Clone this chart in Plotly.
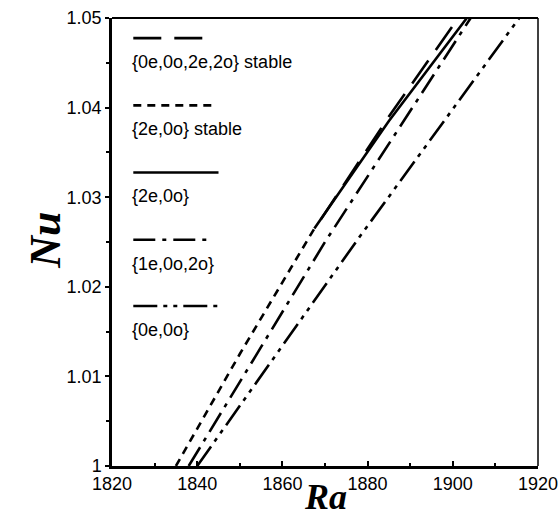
import plotly.graph_objects as go

# Data
ra_stable_4 = [1869.0, 1885.0, 1901.3]
nu_stable_4 = [1.0275, 1.0390, 1.0500]

ra_2e0o_stable = [1835.0, 1850.0, 1867.5]
nu_2e0o_stable = [1.0000, 1.0125, 1.0265]

ra_2e0o = [1867.5, 1885.0, 1903.3]
nu_2e0o = [1.0265, 1.0385, 1.0500]

ra_1e0o2o = [1838.0, 1870.0, 1904.2]
nu_1e0o2o = [1.0000, 1.0250, 1.0500]

ra_0e0o = [1840.0, 1878.0, 1915.6]
nu_0e0o = [1.0000, 1.0255, 1.0500]

legend_labels = ["{0e,0o,2e,2o} stable", "{2e,0o} stable", "{2e,0o}", "{1e,0o,2o}", "{0e,0o}"]

x_ticks = [1820, 1840, 1860, 1880, 1900, 1920]
y_ticks = [1.0, 1.01, 1.02, 1.03, 1.04, 1.05]
y_tick_text = ["1", "1.01", "1.02", "1.03", "1.04", "1.05"]

LW = 2.6
dashes = ["28px,13px", "8px,6px", "solid", "22px,7px,4px,7px", "24px,6px,4px,6px,4px,6px"]
series = [
    (ra_stable_4, nu_stable_4),
    (ra_2e0o_stable, nu_2e0o_stable),
    (ra_2e0o, nu_2e0o),
    (ra_1e0o2o, nu_1e0o2o),
    (ra_0e0o, nu_0e0o),
]

SANS = "Liberation Sans, Arial"
SERIF = "Liberation Serif, Times New Roman"

fig = go.Figure()
for (xs, ys), d, name in zip(series, dashes, legend_labels):
    fig.add_trace(go.Scatter(x=xs, y=ys, mode="lines", name=name,
                             line=dict(color="black", width=LW, dash=d),
                             showlegend=False))

# manual legend inside plot (paper coords)
leg_line_y = [0.955, 0.805, 0.655, 0.505, 0.357]
leg_line_x1 = [0.218, 0.236, 0.250, 0.231, 0.250]
for i, lab in enumerate(legend_labels):
    fig.add_trace(go.Scatter(x=[0.05, leg_line_x1[i]], y=[leg_line_y[i]] * 2,
                             xaxis="x2", yaxis="y2", mode="lines",
                             line=dict(color="black", width=LW, dash=dashes[i]),
                             showlegend=False, hoverinfo="skip"))
    fig.add_annotation(x=0.043, y=leg_line_y[i] - 0.053, xref="paper", yref="paper",
                       text=lab, showarrow=False, xanchor="left", yanchor="middle",
                       font=dict(family=SANS, size=18, color="black"))

# axis titles as annotations
fig.add_annotation(x=0.501, y=-0.070, xref="paper", yref="paper", text="<b><i>Ra</i></b>",
                   showarrow=False, xanchor="center", yanchor="middle",
                   font=dict(family=SERIF, size=36, color="black"))
fig.add_annotation(x=-0.155, y=0.505, xref="paper", yref="paper", text="<b><i>Nu</i></b>",
                   showarrow=False, xanchor="center", yanchor="middle", textangle=-90,
                   font=dict(family=SERIF, size=44, color="black"))

fig.update_layout(
    width=560, height=522,
    margin=dict(l=112, r=22, t=18, b=56),
    paper_bgcolor="white", plot_bgcolor="white",
    xaxis=dict(range=[1820, 1920], tickvals=x_ticks, ticks="inside", ticklen=5,
               tickwidth=1.5, tickcolor="black", automargin=False,
               minor=dict(dtick=10, ticks="inside", ticklen=3, tickcolor="black"),
               showgrid=False, zeroline=False, showline=True, linewidth=2.5,
               linecolor="black", mirror=False,
               tickfont=dict(family=SANS, size=18, color="black")),
    yaxis=dict(range=[1.0, 1.05], tickvals=y_ticks, ticktext=y_tick_text, ticks="outside",
               ticklen=4, tickwidth=1.5, tickcolor="black", automargin=False,
               minor=dict(dtick=0.005, ticks="outside", ticklen=3, tickcolor="black"),
               showgrid=False, zeroline=False, showline=True, linewidth=2.5,
               linecolor="black", mirror=False,
               tickfont=dict(family=SANS, size=18, color="black")),
    xaxis2=dict(range=[0, 1], overlaying="x", visible=False, fixedrange=True),
    yaxis2=dict(range=[0, 1], overlaying="y", visible=False, fixedrange=True),
)
# top & right thinner borders
fig.add_shape(type="line", xref="paper", yref="paper", x0=0, x1=1, y0=1, y1=1,
              line=dict(color="black", width=2))
fig.add_shape(type="line", xref="paper", yref="paper", x0=1, x1=1, y0=0, y1=1,
              line=dict(color="black", width=1.5))

fig.write_html("out.html")
